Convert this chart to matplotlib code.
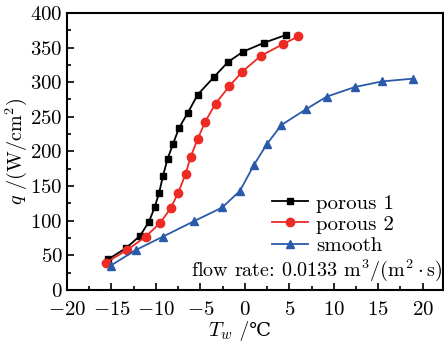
import numpy as np
import matplotlib
matplotlib.use("Agg")
import matplotlib.pyplot as plt

plt.rcParams['font.family'] = ['cmr10', 'DejaVu Serif']
plt.rcParams['mathtext.fontset'] = 'cm'
plt.rcParams['axes.formatter.use_mathtext'] = True

# porous 1
tw_p1 = [-15.4, -13.4, -11.8, -10.8, -10.15, -9.65, -9.2, -8.7, -8.1, -7.4,
         -6.4, -5.3, -3.5, -1.9, -0.2, 2.2, 4.6]
q_p1 = [44, 60, 78, 98, 119, 140, 165, 189, 210, 234,
        256, 282, 307, 329, 344, 357, 368]

# porous 2
tw_p2 = [-15.65, -13.2, -11.15, -9.5, -8.35, -7.5, -6.65, -6.1, -5.3, -4.45,
         -3.3, -1.75, -0.3, 1.8, 4.3, 6.0]
q_p2 = [39, 58, 77, 97, 118, 140, 168, 192, 218, 243,
        269, 294, 315, 338, 355, 366]

# smooth
tw_sm = [-15.1, -12.2, -9.2, -5.75, -2.55, -0.55, 1.0, 2.45, 4.1, 6.9,
         9.2, 12.4, 15.4, 18.9]
q_sm = [35, 58, 77, 99, 119, 143, 180, 210, 238, 261,
        279, 293, 301, 305]

fig = plt.figure(figsize=(4.44, 3.48), dpi=100)
ax = fig.add_axes([0.151, 0.167, 0.847, 0.796])

ax.plot(tw_p1, q_p1, '-s', color='black', ms=5, lw=1.3, label='porous 1')
ax.plot(tw_p2, q_p2, '-o', color='#ee2a24', ms=6, lw=1.3, label='porous 2')
ax.plot(tw_sm, q_sm, '-^', color='#2b5aaa', ms=6, lw=1.3, label='smooth')

ax.set_xlim(-20, 22.3)
ax.set_ylim(0, 400)
ax.set_xticks(np.arange(-20, 21, 5))
ax.set_xticks(np.arange(-20, 22.5, 2.5), minor=True)
ax.set_yticks(np.arange(0, 401, 50))
ax.set_yticks(np.arange(0, 401, 25), minor=True)
ax.tick_params(which='both', direction='in', labelsize=15, width=1.2)
ax.tick_params(which='major', length=5)
ax.tick_params(which='minor', length=3)
ax.tick_params(axis='x', pad=8)
ax.tick_params(axis='y', pad=3)
for s in ax.spines.values():
    s.set_linewidth(1.5)

# x label in two parts so that the degree-Celsius sign can fall back to DejaVu Serif
ax.text(0.44, -0.148, r'$T_w$', transform=ax.transAxes, ha='right', va='center', fontsize=15)
ax.text(0.44, -0.148, ' /℃', transform=ax.transAxes, ha='left', va='center', fontsize=14)
ax.set_ylabel(r'$q$ /(W/cm$^2$)', fontsize=14.5, labelpad=1)

ax.legend(loc='center left', bbox_to_anchor=(0.613, 0.355), bbox_transform=fig.transFigure,
          frameon=False, fontsize=15, handlelength=1.7, handletextpad=0.4,
          labelspacing=0.12, borderpad=0, borderaxespad=0)
ax.text(0.997, 0.072, r'flow rate: 0.0133 m$^3$/(m$^2\cdot$s)', transform=ax.transAxes,
        ha='right', va='center', fontsize=14.5)

fig.savefig('out.png', dpi=100)
